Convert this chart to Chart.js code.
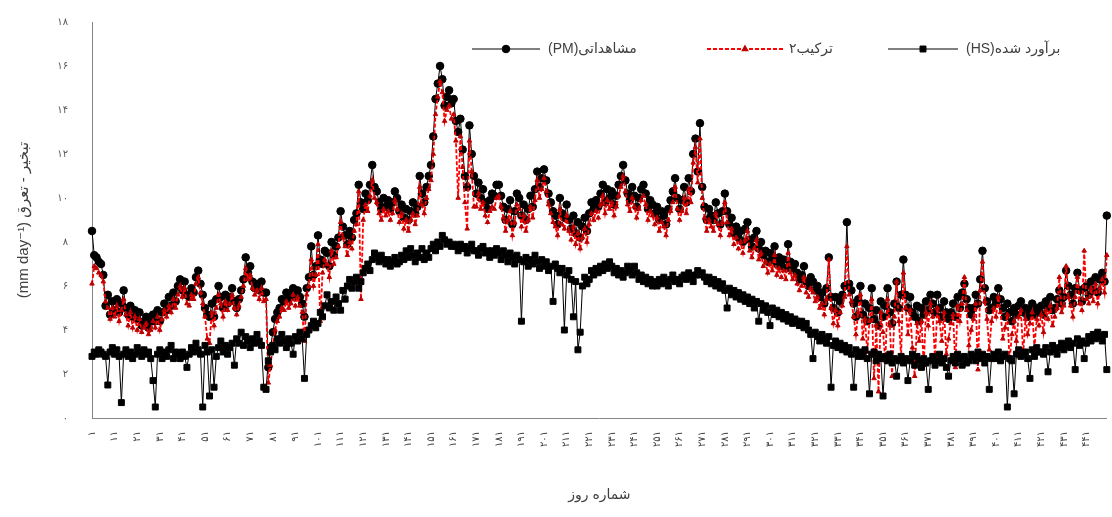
<!DOCTYPE html>
<html>
<head>
<meta charset="utf-8">
<script src="https://cdn.jsdelivr.net/npm/chart.js@4/dist/chart.umd.min.js"></script>
<style>
html,body{margin:0;padding:0;background:#fff;}
#wrap{width:1112px;height:517px;position:relative;}
</style>
</head>
<body>
<div id="wrap"><canvas id="c" width="1112" height="517"></canvas></div>
<script>
// Observed ET (PM)
const pmValues = [
8.5,7.4,7.3,7.1,7.0,6.5,5.1,5.6,4.7,5.3,
4.9,5.4,4.8,5.2,5.8,5.0,4.7,5.1,4.6,4.9,
4.5,4.8,4.2,4.4,4.6,4.1,4.4,4.7,4.4,4.9,
4.4,4.8,5.2,4.9,5.5,5.1,5.7,5.3,6.0,6.3,
5.8,6.2,5.6,5.5,5.9,5.7,6.4,6.7,6.1,5.6,
5.0,4.7,4.6,5.2,4.6,5.4,6.0,5.5,5.0,5.6,
5.2,5.5,5.9,5.3,5.0,5.4,5.8,6.3,7.3,6.6,
6.9,6.2,5.9,6.1,5.8,6.2,5.7,5.7,2.3,3.2,
3.9,4.5,4.8,5.0,5.4,5.3,5.7,5.4,5.6,5.9,
5.5,5.8,5.5,5.2,4.6,5.9,6.4,7.8,6.5,6.9,
8.3,7.2,7.0,7.6,7.5,6.9,8.0,7.4,7.8,8.2,
9.4,8.7,8.3,7.9,8.5,8.2,9.0,9.3,10.6,9.8,
9.5,10.2,9.9,10.6,11.5,10.5,10.3,9.8,9.5,10.0,
9.6,9.9,9.5,9.8,10.3,10.0,9.4,9.7,9.1,9.5,
9.0,9.4,9.8,9.3,9.6,11.0,10.2,9.8,10.5,11.0,
11.5,12.8,14.5,15.2,16.0,15.4,14.2,14.6,14.9,14.3,
14.5,13.5,13.0,13.6,12.2,11.0,10.5,13.3,12.0,11.0,
10.2,10.7,10.0,10.4,9.8,9.5,9.9,10.2,10.1,10.6,
10.6,10.1,9.6,9.0,9.5,9.9,8.8,9.4,10.2,10.0,
9.2,9.7,9.0,9.5,10.1,9.6,10.4,11.2,10.5,10.9,
11.3,10.8,10.2,9.8,9.4,9.2,8.8,10.0,9.3,9.1,
9.7,9.0,8.6,9.2,8.4,8.9,8.2,8.7,9.1,8.5,
9.3,9.8,9.5,9.9,9.6,10.2,10.6,9.8,10.4,10.0,
10.3,9.7,10.1,10.6,11.0,11.5,10.8,10.2,9.9,10.5,
10.1,9.6,10.0,10.4,10.6,10.2,9.5,9.9,9.7,9.3,
9.6,9.0,9.4,9.2,8.8,9.5,9.9,10.3,10.9,10.0,
9.5,9.9,10.5,9.8,10.9,10.3,12.0,12.7,11.2,13.4,
10.5,9.6,9.0,9.5,9.2,9.0,9.8,9.3,8.8,9.4,
10.2,9.4,8.8,9.1,8.4,8.7,8.2,8.5,8.0,8.6,
8.9,8.1,7.8,8.2,8.5,7.7,8.0,7.4,7.6,7.1,
7.5,7.2,7.8,7.0,7.3,6.9,7.2,6.8,7.9,7.1,
6.8,7.0,6.6,6.3,6.5,6.9,6.2,6.0,6.4,6.2,
5.8,6.0,5.5,5.7,5.2,5.9,7.3,5.5,5.0,5.5,
4.8,5.3,5.6,6.0,8.9,6.1,5.8,5.2,4.6,5.4,
6.0,4.7,5.2,4.4,5.0,5.9,4.5,4.9,4.2,5.3,
4.6,5.1,5.9,4.8,4.3,5.2,6.2,5.0,5.6,7.2,
5.6,5.0,5.5,4.8,4.6,5.1,4.4,5.0,4.7,5.3,
4.9,5.6,5.2,4.8,5.6,5.0,4.6,5.3,4.8,4.5,
4.8,5.2,4.6,5.5,5.0,5.7,6.1,5.4,5.0,4.7,
5.0,5.6,5.2,6.3,7.6,5.9,5.3,4.9,5.0,5.5,
5.2,5.9,5.4,5.0,4.6,5.2,4.8,4.4,5.0,4.7,
5.1,5.3,4.8,5.0,4.6,4.9,5.2,4.7,5.0,4.8,
5.1,4.7,5.3,5.0,5.5,4.9,5.0,5.4,5.8,5.2,
5.5,6.7,6.0,5.6,5.2,5.9,6.6,5.8,5.3,5.9,
6.0,5.6,6.2,5.8,6.4,5.7,6.3,6.6,6.2,9.2
];
// Combination 2
const comboValues = [
6.1,6.9,6.8,6.6,6.5,6.2,5.3,5.0,4.5,5.0,
4.6,5.1,4.4,4.9,5.4,4.7,4.2,4.8,4.1,4.6,
4.0,4.5,3.9,4.1,4.3,3.8,4.0,4.4,4.1,4.6,
4.0,4.5,4.9,4.6,5.1,4.8,5.4,5.0,5.6,6.0,
5.5,5.9,5.2,5.1,5.6,5.4,6.1,6.4,5.7,5.2,
4.6,3.6,3.4,4.8,4.2,5.0,5.6,5.2,4.6,5.3,
4.9,5.2,5.6,5.0,4.7,5.1,5.5,6.0,6.8,6.3,
6.5,5.9,5.6,5.8,5.4,5.9,5.3,5.4,1.6,2.4,
3.3,4.0,4.4,4.6,5.0,4.9,5.3,5.0,5.2,5.6,
5.1,5.5,5.1,4.8,3.5,5.6,6.0,7.2,6.0,6.5,
7.9,4.4,6.6,7.2,7.0,6.4,7.6,7.0,7.3,7.8,
8.9,8.2,7.8,7.4,8.0,7.7,8.5,8.8,10.3,5.4,
9.0,9.7,9.4,10.1,10.8,10.0,9.8,9.3,9.0,9.5,
9.2,9.4,9.0,9.3,9.9,9.5,8.9,9.3,8.6,9.0,
8.5,9.0,9.3,8.8,9.2,10.5,9.7,9.3,10.0,10.4,
10.8,12.0,13.8,14.6,15.3,14.8,13.5,14.0,14.2,13.6,
13.8,12.6,10.0,12.8,11.4,9.8,8.6,12.6,11.2,9.6,
9.6,10.2,9.5,9.8,9.2,8.9,9.4,9.6,9.5,10.0,
10.1,9.6,9.1,8.5,9.0,9.4,8.3,8.9,9.7,9.5,
8.7,9.2,8.5,9.0,9.6,9.1,9.9,10.8,10.0,10.4,
10.9,10.3,9.7,9.3,8.9,8.7,8.3,9.5,8.8,8.6,
9.2,8.5,8.1,8.7,7.9,8.4,7.7,8.2,8.6,8.0,
8.8,9.3,9.0,9.4,9.1,9.7,10.1,9.3,9.9,9.5,
9.8,9.2,9.6,10.1,10.5,11.0,10.3,9.7,9.4,10.0,
9.6,9.1,9.5,9.9,10.1,9.7,9.0,9.4,9.2,8.8,
9.1,8.5,8.9,8.7,8.3,9.0,9.4,9.8,10.5,9.5,
9.0,9.4,10.0,9.3,10.4,9.8,11.6,12.3,10.7,12.7,
10.0,9.1,8.5,9.0,8.7,8.5,9.3,8.8,8.3,8.9,
9.8,8.9,8.3,8.6,7.9,8.2,7.7,8.0,7.5,8.1,
8.5,7.6,7.3,7.7,8.1,7.2,7.5,6.9,7.1,6.6,
7.0,6.7,7.4,6.5,6.8,6.4,6.7,6.3,7.5,6.6,
6.3,6.5,6.1,5.8,6.0,6.4,5.7,5.5,5.9,5.7,
5.3,5.5,5.0,5.2,4.7,5.4,7.2,5.0,4.3,4.9,
4.2,4.8,5.1,5.5,7.8,5.6,5.3,4.6,3.8,4.8,
5.6,3.6,4.5,3.0,4.4,5.4,1.8,4.2,1.2,4.8,
3.9,2.6,5.4,4.2,1.9,4.6,6.2,4.4,2.8,6.6,
5.0,3.8,4.9,3.2,1.9,4.3,3.5,4.4,2.4,4.8,
4.2,5.2,4.6,2.7,5.0,4.4,3.5,4.8,2.9,3.6,
4.3,4.7,2.3,5.1,4.4,5.2,6.4,4.9,3.3,4.0,
4.5,5.2,2.2,5.8,7.1,5.3,4.5,3.1,4.4,5.0,
4.6,5.5,4.8,3.6,4.1,4.7,2.6,3.8,4.4,3.5,
4.6,4.9,2.9,4.5,3.8,4.3,4.8,3.2,4.5,4.2,
4.7,3.9,4.9,4.5,5.1,4.2,4.6,5.0,6.4,4.8,
5.1,6.9,5.5,5.1,4.6,5.5,6.4,5.2,4.9,7.6,
5.4,5.2,5.9,5.3,6.1,5.2,5.9,6.3,5.7,7.4
];
// Estimated (HS)
const hsValues = [
2.8,3.0,2.9,3.1,3.0,2.9,2.8,1.5,3.0,3.2,
2.9,3.1,2.8,0.7,2.9,3.1,2.8,3.0,2.7,2.9,
3.2,3.0,2.8,3.1,2.9,3.0,2.7,1.7,0.5,2.9,
3.1,2.7,3.0,2.8,3.1,3.3,2.7,3.0,2.9,2.7,
3.0,2.8,2.3,2.9,3.2,3.0,3.4,3.1,2.9,0.5,
3.3,3.0,1.0,3.1,1.4,2.8,3.2,3.5,3.0,3.3,
2.9,3.2,3.4,2.4,3.6,3.4,3.9,3.3,3.7,3.5,
3.2,3.6,3.4,3.8,3.5,3.3,1.4,1.3,2.6,3.0,
3.3,3.1,3.6,3.4,3.8,3.5,3.2,3.6,3.4,2.9,
3.7,3.5,3.9,3.6,1.8,3.8,4.0,4.2,4.4,4.1,
4.3,4.8,4.6,5.1,5.6,5.0,5.3,4.9,5.5,5.2,
4.9,5.8,5.4,6.0,6.3,5.9,6.2,6.4,5.9,6.2,
6.6,6.8,7.0,6.7,7.2,7.5,7.3,7.1,7.4,7.2,
7.0,7.2,6.9,7.1,7.3,7.0,7.1,7.4,7.2,7.6,
7.3,7.7,7.4,7.1,7.5,7.3,7.7,7.2,7.5,7.3,
7.7,7.9,7.6,8.0,7.8,8.3,8.1,7.9,8.0,7.8,
7.9,7.8,7.6,7.9,7.7,7.8,7.5,7.7,7.9,7.6,
7.6,7.4,7.7,7.8,7.5,7.6,7.3,7.6,7.4,7.7,
7.5,7.2,7.6,7.4,7.1,7.5,7.3,7.0,7.4,7.2,
4.4,7.1,7.3,6.9,7.2,7.0,7.4,7.1,6.8,7.2,
6.9,7.1,6.7,6.9,5.3,7.0,6.8,6.6,6.8,4.0,
6.5,6.7,6.3,4.6,6.2,3.1,3.9,6.0,6.4,6.1,
6.3,6.7,6.5,6.8,6.6,6.9,6.7,7.0,6.8,7.1,
6.9,6.6,6.8,6.5,6.7,6.4,6.6,6.9,6.7,6.5,
6.9,6.6,6.3,6.5,6.2,6.4,6.1,6.3,6.0,6.2,
6.0,6.3,6.1,6.4,6.2,6.0,6.3,6.5,6.2,6.3,
6.1,6.4,6.5,6.3,6.6,6.4,6.2,6.5,6.7,6.5,
6.6,6.4,6.2,6.4,6.1,6.3,6.0,6.2,5.9,6.1,
5.8,5.0,5.9,5.6,5.8,5.5,5.7,5.4,5.6,5.3,
5.5,5.2,5.4,5.0,5.3,4.4,5.2,4.9,5.1,4.8,
4.2,5.0,4.7,4.9,4.6,4.8,4.5,4.7,4.4,4.6,
4.3,4.5,4.4,4.2,4.4,4.1,4.3,4.0,3.8,2.7,
3.9,3.7,3.5,3.8,3.6,3.4,3.7,1.4,3.3,3.5,
3.2,3.4,3.1,3.3,3.0,3.2,2.9,1.4,3.1,2.8,
3.0,2.8,3.1,2.7,1.1,2.9,3.0,2.6,2.9,2.7,
1.0,2.8,2.6,2.9,2.5,2.7,1.9,2.6,2.8,2.5,
2.7,1.7,2.6,2.9,2.4,2.8,2.6,2.3,2.7,2.5,
1.3,2.6,2.8,2.4,2.6,2.9,2.5,2.7,2.3,1.9,
2.6,2.8,2.5,2.9,2.7,2.4,2.8,2.5,2.6,2.9,
2.8,2.6,3.0,2.7,2.9,2.5,2.8,1.3,2.7,2.9,
2.7,3.0,2.6,2.8,2.9,0.5,2.7,2.6,1.1,2.9,
3.1,2.8,2.9,3.0,2.7,1.8,3.1,2.8,3.2,3.0,
3.0,2.9,3.2,2.1,3.0,3.3,3.1,2.9,3.2,3.4,
3.1,3.3,3.5,3.2,3.4,2.2,3.6,3.3,3.5,2.7,
3.4,3.7,3.5,3.8,3.6,3.9,3.7,3.5,3.8,2.2
];
// Categories: day numbers
const dayNumbers = Array.from({length: pmValues.length}, (_, i) => i + 1);
const xLabelEvery = 10;
const yTicks = [0,2,4,6,8,10,12,14,16,18];
const seriesNames = ['(PM)مشاهداتی', 'ترکیب۲', '(HS)برآورد شده'];
const yTitle = '(mm day⁻¹) تبخیر - تعرق';
const xTitle = 'شماره روز';

const faDigits = '۰۱۲۳۴۵۶۷۸۹';
function toFa(n){ return String(n).replace(/[0-9]/g, d => faDigits[+d]); }

const FONT = '"Liberation Sans", Arial, "DejaVu Sans", sans-serif';

const legendPlugin = {
  id: 'lineLegend',
  afterDraw(chart) {
    const ctx = chart.ctx;
    const y = 49;
    const slots = [
      {ds: 0, x1: 472, x2: 540, tx: 548},
      {ds: 1, x1: 707, x2: 783, tx: 789},
      {ds: 2, x1: 888, x2: 958, tx: 966}
    ];
    ctx.save();
    slots.forEach(s => {
      const d = chart.data.datasets[s.ds];
      ctx.beginPath();
      ctx.setLineDash(d.borderDash || []);
      ctx.strokeStyle = d.borderColor;
      ctx.lineWidth = d.borderWidth;
      ctx.moveTo(s.x1, y); ctx.lineTo(s.x2, y);
      ctx.stroke();
      ctx.setLineDash([]);
      ctx.fillStyle = d.pointBackgroundColor;
      ctx.strokeStyle = d.pointBorderColor;
      Chart.helpers.drawPoint(ctx, {pointStyle: d.pointStyle, radius: d.pointRadius, rotation: 0, borderWidth: d.pointBorderWidth}, (s.x1 + s.x2) / 2, y);
      ctx.fillStyle = '#404040';
      ctx.font = '14px ' + FONT;
      ctx.textAlign = 'left';
      ctx.textBaseline = 'middle';
      ctx.fillText(d.label, s.tx, y);
    });
    ctx.restore();
  }
};

new Chart(document.getElementById('c'), {
  type: 'line',
  data: {
    labels: dayNumbers,
    datasets: [
      {
        label: seriesNames[0], data: pmValues, order: 2,
        borderColor: '#000000', borderWidth: 1,
        pointStyle: 'circle', pointRadius: 3.8,
        pointBackgroundColor: '#000000', pointBorderColor: '#000000', pointBorderWidth: 1
      },
      {
        label: seriesNames[1], data: comboValues, order: 1,
        borderColor: '#FF0000', borderWidth: 1.8, borderDash: [4, 2],
        pointStyle: 'triangle', pointRadius: 2.6,
        pointBackgroundColor: '#C00000', pointBorderColor: '#C00000', pointBorderWidth: 1
      },
      {
        label: seriesNames[2], data: hsValues, order: 0,
        borderColor: '#000000', borderWidth: 1,
        pointStyle: 'rect', pointRadius: 4.2,
        pointBackgroundColor: '#000000', pointBorderColor: '#000000', pointBorderWidth: 1
      }
    ]
  },
  options: {
    responsive: false,
    animation: false,
    events: [],
    layout: { padding: { top: 22, right: 2, bottom: 0, left: 0 } },
    elements: { line: { tension: 0 } },
    plugins: { legend: { display: false }, tooltip: { enabled: false } },
    scales: {
      x: {
        type: 'category',
        grid: { display: false, drawTicks: false },
        border: { display: true, color: '#868686', width: 1 },
        ticks: {
          autoSkip: false, minRotation: 90, maxRotation: 90, padding: 13,
          color: '#404040', font: { size: 10, family: FONT },
          callback: (v, i) => (i % xLabelEvery === 0 ? toFa(dayNumbers[i]) : '')
        },
        title: { display: true, text: xTitle, color: '#404040', font: { size: 14, family: FONT }, padding: { top: 0, bottom: 13 } },
        afterFit: s => { s.height = 99; s.paddingLeft = 0; s.paddingRight = 0; }
      },
      y: {
        min: 0, max: 18,
        afterBuildTicks: s => { s.ticks = yTicks.map(v => ({ value: v })); },
        grid: { display: false, drawTicks: false },
        border: { display: true, color: '#868686', width: 1 },
        ticks: { padding: 24, color: '#595959', font: { size: 10, family: FONT }, callback: v => toFa(v) },
        title: { display: true, text: yTitle, color: '#404040', font: { size: 15, family: FONT }, padding: { top: 15, bottom: 0 } },
        afterFit: s => { s.width = 92; s.paddingTop = 0; s.paddingBottom = 0; }
      }
    }
  },
  plugins: [legendPlugin]
});
</script>
</body>
</html>
